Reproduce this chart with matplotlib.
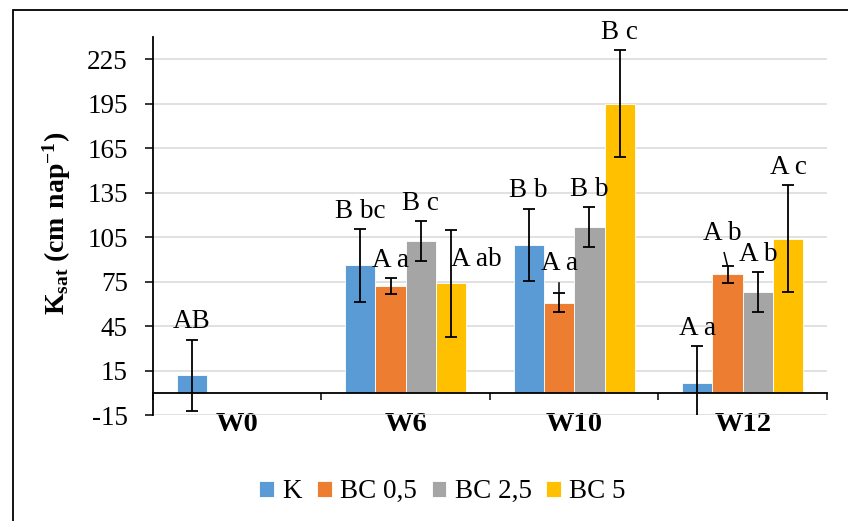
import numpy as np
import matplotlib.pyplot as plt
from matplotlib.patches import Rectangle

plt.rcParams["font.family"] = ["Liberation Serif", "DejaVu Serif"]
plt.rcParams["mathtext.fontset"] = "custom"
plt.rcParams["mathtext.rm"] = "Liberation Serif"
plt.rcParams["mathtext.bf"] = "Liberation Serif:bold"
plt.rcParams["axes.unicode_minus"] = False

weeks = ["W0", "W6", "W10", "W12"]
series = ["K", "BC 0,5", "BC 2,5", "BC 5"]
colors = ["#5B9BD5", "#ED7D31", "#A5A5A5", "#FFC000"]

k_mean = [12, 86, 100, 7]
k_err = [24, 24.5, 24.4, 24.5]
bc05_mean = [np.nan, 72, 61, 80]
bc05_err = [np.nan, 5.5, 6.2, 5.6]
bc25_mean = [np.nan, 102.5, 112, 68]
bc25_err = [np.nan, 13.2, 13.4, 13.6]
bc5_mean = [np.nan, 74, 195, 104]
bc5_err = [np.nan, 36.2, 36, 36.2]

k_lbl = ["AB", "B bc", "B b", "A a"]
bc05_lbl = ["", "A a", "A a", "A b"]
bc25_lbl = ["", "B c", "B b", "A b"]
bc5_lbl = ["", "A ab", "B c", "A c"]

means = [k_mean, bc05_mean, bc25_mean, bc5_mean]
errs = [k_err, bc05_err, bc25_err, bc5_err]
labels = [k_lbl, bc05_lbl, bc25_lbl, bc5_lbl]

# labels that were moved off the error bar: (series, week) -> (dx, dy)
moved = {(3, 1): (0.15, -32), (1, 2): (0, 8), (1, 3): (-0.03, 10)}

fig = plt.figure(figsize=(8.48, 5.21), dpi=100)
ax = fig.add_axes([0.1804, 0.2029, 0.9752 - 0.1804, 0.9288 - 0.2029])

x = np.arange(len(weeks))
w = 0.18
for j in range(4):
    pos = x + (j - 1.5) * w
    m = np.array(means[j], dtype=float)
    e = np.array(errs[j], dtype=float)
    ax.bar(pos, np.nan_to_num(m), width=w, color=colors[j], label=series[j],
           edgecolor="white", linewidth=0.6, zorder=2)
    ok = ~np.isnan(m)
    ax.errorbar(pos[ok], m[ok], yerr=e[ok], fmt="none", ecolor="black",
                elinewidth=1.3, capsize=4.5, capthick=1.3, zorder=3)
    for i in range(len(weeks)):
        if not labels[j][i]:
            continue
        dx, dy = moved.get((j, i), (0, 0))
        ax.text(pos[i] + dx, m[i] + e[i] + 3.5 + dy, labels[j][i],
                ha="center", va="bottom", fontsize=19.5, zorder=4)

# small leader lines from moved labels
p = x + (1 - 1.5) * w
ax.plot([p[2], p[2]], [bc05_mean[2] + bc05_err[2], bc05_mean[2] + bc05_err[2] + 7],
        color="black", lw=1.1, zorder=3)
ax.plot([p[3] - 0.02, p[3]], [bc05_mean[3] + bc05_err[3] + 9, bc05_mean[3] + bc05_err[3]],
        color="black", lw=1.1, zorder=3)

ax.set_xlim(-0.5, 3.5)
ax.set_ylim(-15, 240)
ax.set_yticks(np.arange(-15, 240, 30))
ax.yaxis.grid(True, color="#D9D9D9", lw=1.1)
ax.set_axisbelow(True)

for s in ["top", "right"]:
    ax.spines[s].set_visible(False)
ax.spines["bottom"].set_position(("data", 0))
ax.spines["bottom"].set_linewidth(1.3)
ax.spines["left"].set_linewidth(1.3)

ax.set_xticks(x)
ax.set_xticklabels(weeks, fontweight="bold", fontsize=20.5)
ax.set_xticks(np.arange(-0.5, 3.6, 1), minor=True)
ax.tick_params(axis="x", which="major", length=0, pad=14)
ax.tick_params(axis="x", which="minor", length=5, width=1.1, direction="out")
ax.tick_params(axis="y", length=6, width=1.1, pad=12, labelsize=19.5)

fig.text(0.067, 1 - 223 / 521, r"$\mathbf{K_{sat}}$ $\mathbf{(cm\ nap^{-1})}$",
         rotation=90, ha="center", va="center", fontsize=20)

fig.legend(loc="center", bbox_to_anchor=(0.522, 0.056), ncol=4, frameon=False,
           fontsize=19.5, handlelength=0.55, handleheight=0.55, handletextpad=0.3,
           columnspacing=0.55)

fig.patches.append(Rectangle((13 / 848, -0.1), 1.2, 1.1 - 10.3 / 521,
                             transform=fig.transFigure, fill=False,
                             edgecolor="black", lw=1.3))

fig.savefig("out.png", dpi=100)
